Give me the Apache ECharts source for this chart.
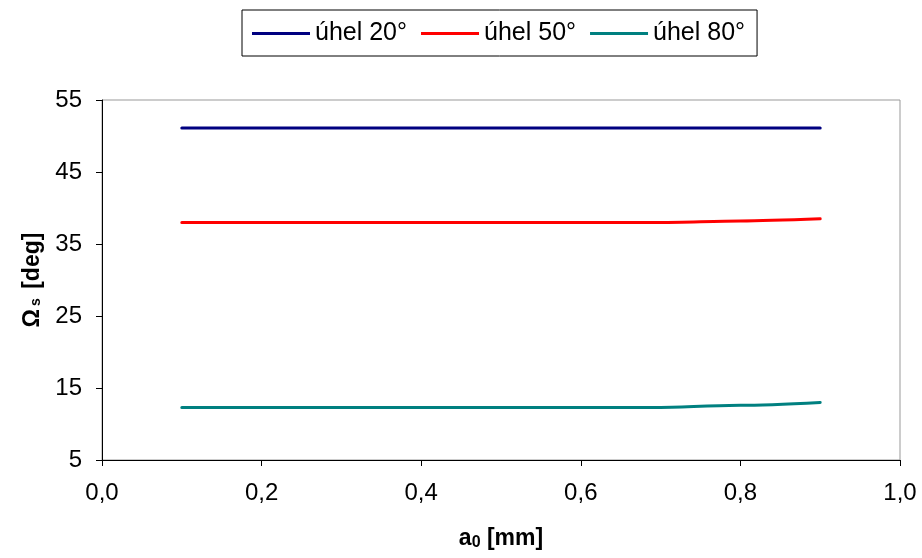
<!DOCTYPE html>
<html>
<head>
<meta charset="utf-8">
<script src="https://cdn.jsdelivr.net/npm/echarts@6/dist/echarts.min.js"></script>
<style>
  html, body { margin: 0; padding: 0; background: #fff; }
  #chart { width: 922px; height: 558px; }
</style>
</head>
<body>
<div id="chart"></div>
<script>
// a0 [mm] values
var xValues = [0.1, 0.2, 0.3, 0.4, 0.5, 0.6, 0.7, 0.8, 0.9];
// Omega_s [deg] per angle
var uhel20 = [51.1, 51.1, 51.1, 51.1, 51.1, 51.1, 51.1, 51.1, 51.1];
var uhel50 = [38.0, 38.0, 38.0, 38.0, 38.0, 38.0, 38.0, 38.2, 38.5];
var uhel80 = [12.3, 12.3, 12.3, 12.3, 12.3, 12.3, 12.3, 12.6, 13.0];
var seriesNames = ['úhel 20°', 'úhel 50°', 'úhel 80°'];
var seriesColors = ['#000080', '#ff0000', '#008080'];

function pairs(ys) {
    var out = [];
    for (var i = 0; i < xValues.length; i++) {
        out.push([xValues[i], ys[i]]);
    }
    return out;
}

var chart = echarts.init(document.getElementById('chart'));
var font = 'Liberation Sans, Arial, sans-serif';

var series = [uhel20, uhel50, uhel80].map(function (ys, i) {
    return {
        name: seriesNames[i],
        type: 'line',
        data: pairs(ys),
        showSymbol: false,
        smooth: 0.3,
        smoothMonotone: 'x',
        lineStyle: { color: seriesColors[i], width: 3, cap: 'round' },
        itemStyle: { color: seriesColors[i] },
        animation: false
    };
});

var option = {
    backgroundColor: '#fff',
    legend: {
        top: 10,
        left: 242,
        itemWidth: 58,
        itemHeight: 3,
        itemGap: 14,
        padding: [11, 12, 10, 10],
        borderColor: '#000',
        borderWidth: 1,
        icon: 'rect',
        textStyle: { fontFamily: font, fontSize: 25, color: '#000' },
        data: seriesNames
    },
    grid: {
        left: 102,
        right: 22,
        top: 100,
        bottom: 98,
        show: true,
        borderColor: '#999',
        borderWidth: 1
    },
    xAxis: {
        type: 'value',
        min: 0,
        max: 1,
        interval: 0.2,
        axisLine: { lineStyle: { color: '#000', width: 1 } },
        axisTick: { show: true, length: 6, lineStyle: { color: '#000' } },
        splitLine: { show: false },
        axisLabel: {
            fontFamily: font, fontSize: 24, color: '#000', margin: 21,
            formatter: function (v) { return v.toFixed(1).replace('.', ','); }
        },
        name: '{b|a}{sub|0}{b| [mm]}',
        nameLocation: 'middle',
        nameGap: 66,
        nameTextStyle: {
            rich: {
                b: { fontFamily: font, fontSize: 23, fontWeight: 'bold', color: '#000' },
                sub: { fontFamily: font, fontSize: 16, fontWeight: 'bold', color: '#000', padding: [9, 0, 0, 0] }
            }
        }
    },
    yAxis: {
        type: 'value',
        min: 5,
        max: 55,
        interval: 10,
        axisLine: { show: true, lineStyle: { color: '#000', width: 1 } },
        axisTick: { show: true, length: 6, lineStyle: { color: '#000' } },
        splitLine: { show: false },
        axisLabel: { fontFamily: font, fontSize: 24, color: '#000', margin: 20 },
        name: '{b|Ω}{sub|s}{b| [deg]}',
        nameLocation: 'middle',
        nameGap: 57,
        nameRotate: 90,
        nameTextStyle: {
            rich: {
                b: { fontFamily: font, fontSize: 23, fontWeight: 'bold', color: '#000' },
                sub: { fontFamily: font, fontSize: 14, fontWeight: 'bold', color: '#000', padding: [6, 3, 0, 3] }
            }
        }
    },
    series: series
};

chart.setOption(option);
</script>
</body>
</html>
